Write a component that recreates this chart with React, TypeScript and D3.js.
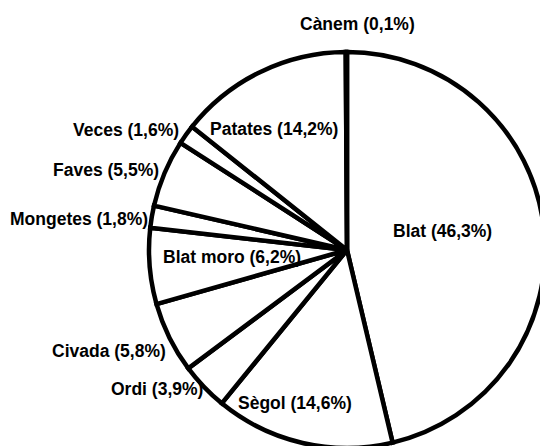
import React from "react";
import * as d3 from "d3";

const categories = ["Blat", "Sègol", "Ordi", "Civada", "Blat moro", "Mongetes", "Faves", "Veces", "Patates", "Cànem"];
const values = [46.3, 14.6, 3.9, 5.8, 6.2, 1.8, 5.5, 1.6, 14.2, 0.1];
const valueLabels = ["46,3", "14,6", "3,9", "5,8", "6,2", "1,8", "5,5", "1,6", "14,2", "0,1"];

// label layout: left x, vertical centre y (page layout, not data)
const labelLayout: [number, number][] = [
  [393, 231],
  [238, 403],
  [111, 389],
  [52, 351],
  [163, 257],
  [10, 219],
  [53, 170],
  [73, 130],
  [210, 129],
  [300, 24],
];

const W = 540;
const H = 446;
const cx = 347;
const cy = 250;
const R = 198;

export default function App() {
  const pie = d3.pie<number>().sort(null).value((d) => d)(values);
  const arc = d3.arc<d3.PieArcDatum<number>>().innerRadius(0).outerRadius(R);
  return (
    <svg width={W} height={H} style={{ position: "absolute", left: 0, top: 0, background: "#fff" }}>
      <rect width={W} height={H} fill="#fff" />
      <g transform={`translate(${cx},${cy})`}>
        {pie.map((p, i) => (
          <path key={i} d={arc(p) || ""} fill="#fff" stroke="#000" strokeWidth={4.5} strokeLinejoin="miter" />
        ))}
      </g>
      {categories.map((c, i) => (
        <text
          key={c}
          x={labelLayout[i][0]}
          y={labelLayout[i][1]}
          dominantBaseline="central"
          fontFamily="'Liberation Sans', Arial, sans-serif"
          fontSize={17.5}
          fontWeight="bold"
          fill="#000"
        >
          {`${c} (${valueLabels[i]}%)`}
        </text>
      ))}
    </svg>
  );
}
